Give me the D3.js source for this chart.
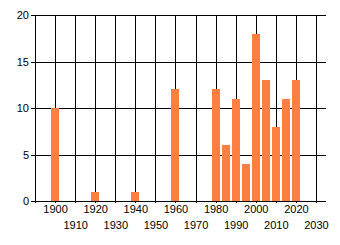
<!DOCTYPE html>
<html>
<head>
<meta charset="utf-8">
<script src="https://cdn.jsdelivr.net/npm/d3@7"></script>
<style>
  body { margin: 0; background: #fff; }
  svg { display: block; font-family: "Liberation Sans", Arial, sans-serif; }
</style>
</head>
<body>
<div id="chart"></div>
<script>
// data
const years = [1900, 1920, 1940, 1960, 1980, 1985, 1990, 1995, 2000, 2005, 2010, 2015, 2020];
const counts = [10, 1, 1, 12, 12, 6, 11, 4, 18, 13, 8, 11, 13];
const xTicks = [1890, 1900, 1910, 1920, 1930, 1940, 1950, 1960, 1970, 1980, 1990, 2000, 2010, 2020, 2030];
const yTicks = [0, 5, 10, 15, 20];

const width = 340;
const height = 245;
const margin = { top: 15, right: 14, bottom: 44, left: 35 };

const x = d3.scaleLinear()
    .domain([1890, 2035])
    .range([margin.left, width - margin.right]);

const y = d3.scaleLinear()
    .domain([0, 20])
    .range([height - margin.bottom, margin.top]);

const svg = d3.select("#chart").append("svg")
    .attr("width", width)
    .attr("height", height);

// horizontal grid + left ticks
svg.append("g")
    .selectAll("line")
    .data(yTicks)
    .join("line")
    .attr("x1", margin.left - 4)
    .attr("x2", width - margin.right)
    .attr("y1", d => Math.round(y(d)) + 0.5)
    .attr("y2", d => Math.round(y(d)) + 0.5)
    .attr("stroke", "#000");

// vertical grid
svg.append("g")
    .selectAll("line")
    .data(xTicks)
    .join("line")
    .attr("x1", d => Math.round(x(d)) + 0.5)
    .attr("x2", d => Math.round(x(d)) + 0.5)
    .attr("y1", margin.top)
    .attr("y2", height - margin.bottom + 2)
    .attr("stroke", "#000");

// bars
const barW = 8;
svg.append("g")
    .attr("fill", "#ff7f40")
    .selectAll("rect")
    .data(years)
    .join("rect")
    .attr("x", d => Math.round(x(d)) - barW / 2)
    .attr("y", (d, i) => Math.round(y(counts[i])))
    .attr("width", barW)
    .attr("height", (d, i) => Math.round(y(0)) - Math.round(y(counts[i])));

// y labels
svg.append("g")
    .selectAll("text")
    .data(yTicks)
    .join("text")
    .attr("x", margin.left - 6)
    .attr("y", d => y(d) + 4)
    .attr("text-anchor", "end")
    .attr("font-size", 11)
    .attr("fill", "#000")
    .text(d => d);

// x labels, staggered in two rows
svg.append("g")
    .selectAll("text")
    .data(xTicks.filter(d => d > 1890))
    .join("text")
    .attr("x", d => x(d) + 0.5)
    .attr("y", d => d % 20 === 0 ? 213 : 229)
    .attr("text-anchor", "middle")
    .attr("font-size", 11)
    .attr("fill", "#000")
    .text(d => d);
</script>
</body>
</html>
